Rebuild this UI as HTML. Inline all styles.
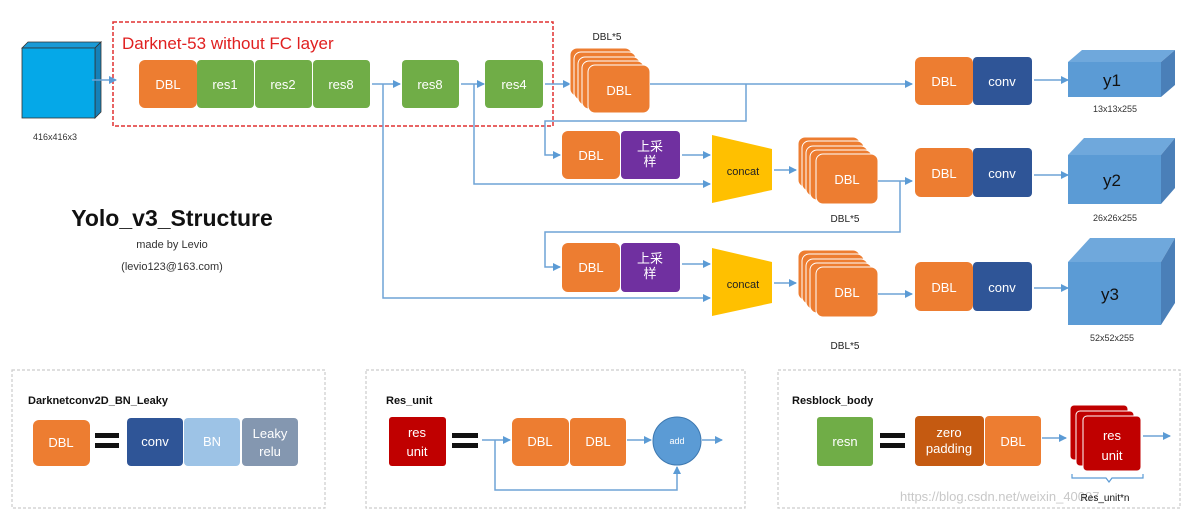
<!DOCTYPE html>
<html><head><meta charset="utf-8"><style>
html,body{margin:0;padding:0;background:#fff;}
svg{display:block;font-family:"Liberation Sans","Noto Sans CJK SC",sans-serif;}
.w{fill:#fff;font-size:13px;text-anchor:middle;}
.l{stroke:#6fa3d6;stroke-width:1.5;fill:none;}
</style></head><body>
<svg width="1192" height="514" viewBox="0 0 1192 514" xmlns="http://www.w3.org/2000/svg">
<defs>
<marker id="a" markerWidth="8" markerHeight="8" refX="7" refY="4" orient="auto" markerUnits="userSpaceOnUse"><path d="M0,0L8,4L0,8z" fill="#5b9bd5"/></marker>
</defs>
<!-- input cube -->
<polygon points="22,48 28,42 101,42 95,48" fill="#1a9ad6" stroke="#333" stroke-width="0.8"/>
<polygon points="95,48 101,42 101,112 95,118" fill="#1580b8" stroke="#333" stroke-width="0.8"/>
<rect x="22" y="48" width="73" height="70" fill="#05a8e8" stroke="#333" stroke-width="0.8"/>
<text x="55" y="140" font-size="9" text-anchor="middle" fill="#333">416x416x3</text>
<!-- dashed -->
<rect x="113" y="22" width="440" height="104" fill="none" stroke="#e03030" stroke-width="1.5" stroke-dasharray="4,2"/>
<text x="122" y="49" font-size="17" fill="#e02020">Darknet-53 without FC layer</text>
<line class="l" x1="92" y1="80" x2="116" y2="80" marker-end="url(#a)"/>
<rect x="139" y="60" width="58" height="48" rx="6" fill="#ed7d31"/><text class="w" x="168" y="89">DBL</text>
<rect x="197" y="60" width="57" height="48" rx="4" fill="#70ad47"/><text class="w" x="225" y="89">res1</text>
<rect x="255" y="60" width="57" height="48" rx="4" fill="#70ad47"/><text class="w" x="283" y="89">res2</text>
<rect x="313" y="60" width="57" height="48" rx="4" fill="#70ad47"/><text class="w" x="341" y="89">res8</text>
<line class="l" x1="372" y1="84" x2="400" y2="84" marker-end="url(#a)"/>
<rect x="402" y="60" width="57" height="48" rx="4" fill="#70ad47"/><text class="w" x="430" y="89">res8</text>
<line class="l" x1="461" y1="84" x2="484" y2="84" marker-end="url(#a)"/>
<rect x="485" y="60" width="58" height="48" rx="4" fill="#70ad47"/><text class="w" x="514" y="89">res4</text>
<line class="l" x1="545" y1="84" x2="570" y2="84" marker-end="url(#a)"/>
<!-- stack 1 -->
<text x="607" y="40" font-size="10" text-anchor="middle" fill="#222">DBL*5</text>
<g fill="#ed7d31" stroke="#fff" stroke-width="1">
<rect x="570" y="48" width="62" height="48" rx="7"/><rect x="574" y="52" width="62" height="48" rx="7"/>
<rect x="578" y="57" width="62" height="48" rx="7"/><rect x="582" y="61" width="62" height="48" rx="7"/>
<rect x="588" y="65" width="62" height="48" rx="7"/></g>
<text class="w" x="619" y="95">DBL</text>
<line class="l" x1="650" y1="84" x2="912" y2="84" marker-end="url(#a)"/>
<polyline class="l" points="746,84 746,121 545,121 545,155 560,155" marker-end="url(#a)"/>
<polyline class="l" points="383,84 383,298 710,298" marker-end="url(#a)"/>
<polyline class="l" points="474,84 474,184 710,184" marker-end="url(#a)"/>
<!-- row 1 outputs -->
<rect x="915" y="57" width="58" height="48" rx="6" fill="#ed7d31"/><text class="w" x="944" y="86">DBL</text>
<rect x="973" y="57" width="59" height="48" rx="4" fill="#2f5597"/><text class="w" x="1002" y="86">conv</text>
<line class="l" x1="1034" y1="80" x2="1068" y2="80" marker-end="url(#a)"/>
<polygon points="1068,62 1082,50 1175,50 1161,62" fill="#6fa8dc"/>
<polygon points="1161,62 1175,50 1175,85 1161,97" fill="#4a7fb8"/>
<rect x="1068" y="62" width="93" height="35" fill="#5b9bd5"/>
<text x="1112" y="86" font-size="17" text-anchor="middle" fill="#111">y1</text>
<text x="1115" y="112" font-size="9" text-anchor="middle" fill="#333">13x13x255</text>
<!-- row 2 -->
<rect x="562" y="131" width="58" height="48" rx="6" fill="#ed7d31"/><text class="w" x="591" y="160">DBL</text>
<rect x="621" y="131" width="59" height="48" rx="4" fill="#7030a0"/>
<text class="w" x="650" y="151" font-size="11">上采</text><text class="w" x="650" y="166" font-size="11">样</text>
<line class="l" x1="682" y1="155" x2="710" y2="155" marker-end="url(#a)"/>
<polygon points="712,135 772,149 772,190 712,203" fill="#ffc000"/>
<text x="743" y="175" font-size="11" text-anchor="middle" fill="#222">concat</text>
<line class="l" x1="774" y1="170" x2="796" y2="170" marker-end="url(#a)"/>
<g fill="#ed7d31" stroke="#fff" stroke-width="1">
<rect x="798" y="137" width="62" height="50" rx="7"/><rect x="802" y="141" width="62" height="50" rx="7"/>
<rect x="806" y="146" width="62" height="50" rx="7"/><rect x="810" y="150" width="62" height="50" rx="7"/>
<rect x="816" y="154" width="62" height="50" rx="7"/></g>
<text class="w" x="847" y="184">DBL</text>
<text x="845" y="222" font-size="10" text-anchor="middle" fill="#222">DBL*5</text>
<line class="l" x1="878" y1="181" x2="912" y2="181" marker-end="url(#a)"/>
<polyline class="l" points="900,181 900,232 545,232 545,267 560,267" marker-end="url(#a)"/>
<rect x="915" y="148" width="58" height="49" rx="6" fill="#ed7d31"/><text class="w" x="944" y="178">DBL</text>
<rect x="973" y="148" width="59" height="49" rx="4" fill="#2f5597"/><text class="w" x="1002" y="178">conv</text>
<line class="l" x1="1034" y1="175" x2="1068" y2="175" marker-end="url(#a)"/>
<polygon points="1068,155 1084,138 1175,138 1161,155" fill="#6fa8dc"/>
<polygon points="1161,155 1175,138 1175,188 1161,204" fill="#4a7fb8"/>
<rect x="1068" y="155" width="93" height="49" fill="#5b9bd5"/>
<text x="1112" y="186" font-size="17" text-anchor="middle" fill="#111">y2</text>
<text x="1115" y="221" font-size="9" text-anchor="middle" fill="#333">26x26x255</text>
<!-- row 3 -->
<rect x="562" y="243" width="58" height="49" rx="6" fill="#ed7d31"/><text class="w" x="591" y="272">DBL</text>
<rect x="621" y="243" width="59" height="49" rx="4" fill="#7030a0"/>
<text class="w" x="650" y="263" font-size="11">上采</text><text class="w" x="650" y="278" font-size="11">样</text>
<line class="l" x1="682" y1="264" x2="710" y2="264" marker-end="url(#a)"/>
<polygon points="712,248 772,262 772,303 712,316" fill="#ffc000"/>
<text x="743" y="288" font-size="11" text-anchor="middle" fill="#222">concat</text>
<line class="l" x1="774" y1="283" x2="796" y2="283" marker-end="url(#a)"/>
<g fill="#ed7d31" stroke="#fff" stroke-width="1">
<rect x="798" y="250" width="62" height="50" rx="7"/><rect x="802" y="254" width="62" height="50" rx="7"/>
<rect x="806" y="259" width="62" height="50" rx="7"/><rect x="810" y="263" width="62" height="50" rx="7"/>
<rect x="816" y="267" width="62" height="50" rx="7"/></g>
<text class="w" x="847" y="297">DBL</text>
<text x="845" y="349" font-size="10" text-anchor="middle" fill="#222">DBL*5</text>
<line class="l" x1="878" y1="294" x2="912" y2="294" marker-end="url(#a)"/>
<rect x="915" y="262" width="58" height="49" rx="6" fill="#ed7d31"/><text class="w" x="944" y="292">DBL</text>
<rect x="973" y="262" width="59" height="49" rx="4" fill="#2f5597"/><text class="w" x="1002" y="292">conv</text>
<line class="l" x1="1034" y1="288" x2="1068" y2="288" marker-end="url(#a)"/>
<polygon points="1068,262 1090,238 1175,238 1161,262" fill="#6fa8dc"/>
<polygon points="1161,262 1175,238 1175,303 1161,325" fill="#4a7fb8"/>
<rect x="1068" y="262" width="93" height="63" fill="#5b9bd5"/>
<text x="1110" y="300" font-size="17" text-anchor="middle" fill="#111">y3</text>
<text x="1112" y="341" font-size="9" text-anchor="middle" fill="#333">52x52x255</text>
<!-- title -->
<text x="172" y="226" font-size="23" font-weight="bold" text-anchor="middle" fill="#111">Yolo_v3_Structure</text>
<text x="172" y="248" font-size="11" text-anchor="middle" fill="#333">made by Levio</text>
<text x="172" y="270" font-size="11" text-anchor="middle" fill="#333">(levio123@163.com)</text>
<!-- bottom boxes -->
<g fill="none" stroke="#ccc" stroke-width="1.2" stroke-dasharray="3,2">
<rect x="12" y="370" width="313" height="138"/><rect x="366" y="370" width="379" height="138"/><rect x="778" y="370" width="402" height="138"/></g>
<text x="28" y="404" font-size="11" font-weight="bold" fill="#111">Darknetconv2D_BN_Leaky</text>
<rect x="33" y="420" width="57" height="46" rx="6" fill="#ed7d31"/><text class="w" x="61" y="447">DBL</text>
<rect x="95" y="433" width="24" height="5" fill="#111"/><rect x="95" y="443" width="24" height="5" fill="#111"/>
<rect x="127" y="418" width="56" height="48" rx="4" fill="#2f5597"/><text class="w" x="155" y="446">conv</text>
<rect x="184" y="418" width="56" height="48" rx="4" fill="#9dc3e6"/><text class="w" x="212" y="446">BN</text>
<rect x="242" y="418" width="56" height="48" rx="4" fill="#8497b0"/>
<text class="w" x="270" y="438" font-size="10">Leaky</text><text class="w" x="270" y="456" font-size="10">relu</text>
<text x="386" y="404" font-size="11" font-weight="bold" fill="#111">Res_unit</text>
<rect x="389" y="417" width="57" height="49" rx="3" fill="#c00000"/>
<text class="w" x="417" y="437">res</text><text class="w" x="417" y="456">unit</text>
<rect x="452" y="433" width="26" height="5" fill="#111"/><rect x="452" y="443" width="26" height="5" fill="#111"/>
<line class="l" x1="482" y1="440" x2="510" y2="440" marker-end="url(#a)"/>
<rect x="512" y="418" width="57" height="48" rx="6" fill="#ed7d31"/><text class="w" x="540" y="446">DBL</text>
<rect x="570" y="418" width="56" height="48" rx="4" fill="#ed7d31"/><text class="w" x="598" y="446">DBL</text>
<line class="l" x1="627" y1="440" x2="651" y2="440" marker-end="url(#a)"/>
<ellipse cx="677" cy="441" rx="24" ry="24" fill="#5b9bd5" stroke="#3d78b0"/>
<text x="677" y="444" font-size="9" text-anchor="middle" fill="#fff">add</text>
<line class="l" x1="702" y1="440" x2="722" y2="440" marker-end="url(#a)"/>
<polyline class="l" points="495,440 495,490 677,490 677,467" marker-end="url(#a)"/>
<text x="792" y="404" font-size="11" font-weight="bold" fill="#111">Resblock_body</text>
<rect x="817" y="417" width="56" height="49" rx="3" fill="#70ad47"/><text class="w" x="845" y="446">resn</text>
<rect x="880" y="433" width="25" height="5" fill="#111"/><rect x="880" y="443" width="25" height="5" fill="#111"/>
<rect x="915" y="416" width="69" height="50" rx="4" fill="#c55a11"/>
<text class="w" x="949" y="437" font-size="10">zero</text><text class="w" x="949" y="453" font-size="10">padding</text>
<rect x="985" y="416" width="56" height="50" rx="4" fill="#ed7d31"/><text class="w" x="1013" y="446">DBL</text>
<line class="l" x1="1042" y1="438" x2="1066" y2="438" marker-end="url(#a)"/>
<g fill="#c00000" stroke="#fff" stroke-width="1">
<rect x="1070" y="405" width="58" height="55" rx="4"/><rect x="1076" y="411" width="58" height="55" rx="4"/><rect x="1083" y="416" width="58" height="55" rx="4"/></g>
<text class="w" x="1112" y="440">res</text><text class="w" x="1112" y="460">unit</text>
<line class="l" x1="1143" y1="436" x2="1170" y2="436" marker-end="url(#a)"/>
<path d="M1072,474 v4 h34 l3,4 l3,-4 h31 v-4" fill="none" stroke="#5b9bd5" stroke-width="1.2"/>
<text x="900" y="501" font-size="13" fill="#c8c8c8">https://blog.csdn.net/weixin_40007</text>
<text x="1105" y="501" font-size="10" text-anchor="middle" fill="#111">Res_unit*n</text>
</svg>
</body></html>
